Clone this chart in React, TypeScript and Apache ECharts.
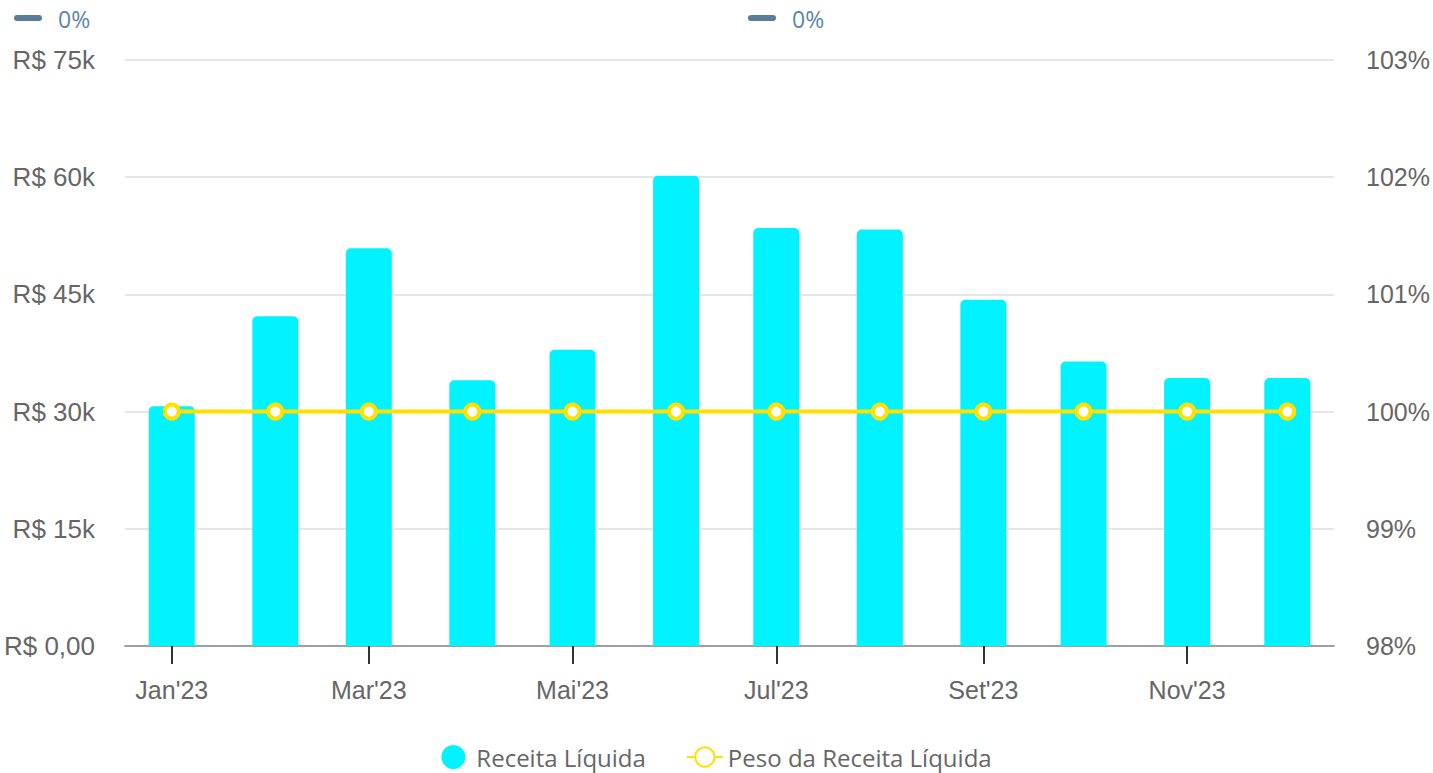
import React, { useEffect, useRef } from "react";
import * as echarts from "echarts";

const months: string[] = ["2023-01", "2023-02", "2023-03", "2023-04", "2023-05", "2023-06", "2023-07", "2023-08", "2023-09", "2023-10", "2023-11", "2023-12"];
const receita: number[] = [30700, 42200, 50900, 34000, 37900, 60200, 53500, 53300, 44300, 36400, 34300, 34300];
const peso: number[] = [100, 100, 100, 100, 100, 100, 100, 100, 100, 100, 100, 100];
const tickMonths: string[] = ["2023-01", "2023-03", "2023-05", "2023-07", "2023-09", "2023-11"];
const monthNames: string[] = ["Jan", "Fev", "Mar", "Abr", "Mai", "Jun", "Jul", "Ago", "Set", "Out", "Nov", "Dez"];
const leftTicks: number[] = [0, 15000, 30000, 45000, 60000, 75000];
const topBadges: string[] = ["0%", "0%"];

const toTs = (m: string) => {
  const [y, mo] = m.split("-").map(Number);
  return Date.UTC(y, mo - 1, 1);
};
const DAY = 86400000;

export default function App() {
  const ref = useRef<HTMLDivElement>(null);
  useEffect(() => {
    if (!ref.current) return;
    const chart = echarts.init(ref.current, null, { renderer: "svg" });
    const ts = months.map(toTs);
    const tickTs = tickMonths.map(toTs);
    const axisFont = "'Liberation Sans', Arial, sans-serif";
    chart.setOption({
      animation: false,
      backgroundColor: "#ffffff",
      grid: { left: 125, right: 98, top: 60, bottom: 127, containLabel: false },
      legend: {
        top: 744,
        left: "center",
        padding: 0,
        itemGap: 40,
        itemWidth: 36,
        itemHeight: 24,
        textStyle: { fontFamily: "'Open Sans', sans-serif", fontSize: 24, lineHeight: 26, color: "#666666" },
        data: [
          { name: "Receita Líquida", icon: "circle" },
          { name: "Peso da Receita Líquida" },
        ],
      },
      graphic: topBadges.flatMap((t, i) => {
        const x0 = i === 0 ? 14 : 748;
        return [
          { type: "rect", left: x0, top: 15, shape: { width: 28, height: 6, r: 3 }, style: { fill: "#5a7c98" } },
          { type: "text", left: x0 + 44, top: 7, style: { text: t, fill: "#5e84a8", fontSize: 23, fontFamily: "'Open Sans', sans-serif" } },
        ];
      }),
      xAxis: {
        type: "value",
        min: ts[0] - 14 * DAY,
        max: ts[ts.length - 1] + 14 * DAY,
        axisLine: { lineStyle: { color: "#a0a0a0", width: 2 } },
        axisTick: { show: true, customValues: tickTs, length: 18, lineStyle: { color: "#333333", width: 2 } },
        axisLabel: {
          customValues: tickTs,
          margin: 31,
          fontSize: 25,
          fontFamily: axisFont,
          color: "#666666",
          formatter: (v: number) => {
            const d = new Date(v);
            return monthNames[d.getUTCMonth()] + "'" + String(d.getUTCFullYear()).slice(2);
          },
        },
        splitLine: { show: false },
      },
      yAxis: [
        {
          type: "value",
          min: leftTicks[0],
          max: leftTicks[leftTicks.length - 1],
          interval: 15000,
          axisLine: { show: false },
          axisTick: { show: false },
          axisLabel: {
            margin: 30,
            fontSize: 26,
            fontFamily: axisFont,
            color: "#666666",
            formatter: (v: number) => (v === 0 ? "R$ 0,00" : "R$ " + v / 1000 + "k"),
          },
          splitLine: { lineStyle: { color: "#e6e6e6", width: 2 } },
        },
        {
          type: "value",
          min: 98,
          max: 103,
          interval: 1,
          axisLine: { show: false },
          axisTick: { show: false },
          axisLabel: { margin: 32, fontSize: 25, fontFamily: axisFont, color: "#666666", formatter: "{value}%" },
          splitLine: { show: false },
        },
      ],
      series: [
        {
          name: "Receita Líquida",
          type: "bar",
          barWidth: 46,
          yAxisIndex: 0,
          itemStyle: { color: "#00F3FF", borderRadius: [5, 5, 0, 0] },
          data: ts.map((t, i) => [t, receita[i]]),
        },
        {
          name: "Peso da Receita Líquida",
          type: "line",
          yAxisIndex: 1,
          symbol: "circle",
          symbolSize: 14,
          lineStyle: { color: "#FFE000", width: 4 },
          itemStyle: { color: "#ffffff", borderColor: "#FFE000", borderWidth: 4 },
          data: ts.map((t, i) => [t, peso[i]]),
        },
      ],
    });
    return () => chart.dispose();
  }, []);
  return <div ref={ref} style={{ width: 1433, height: 773, position: "absolute", left: 0, top: 0 }} />;
}
